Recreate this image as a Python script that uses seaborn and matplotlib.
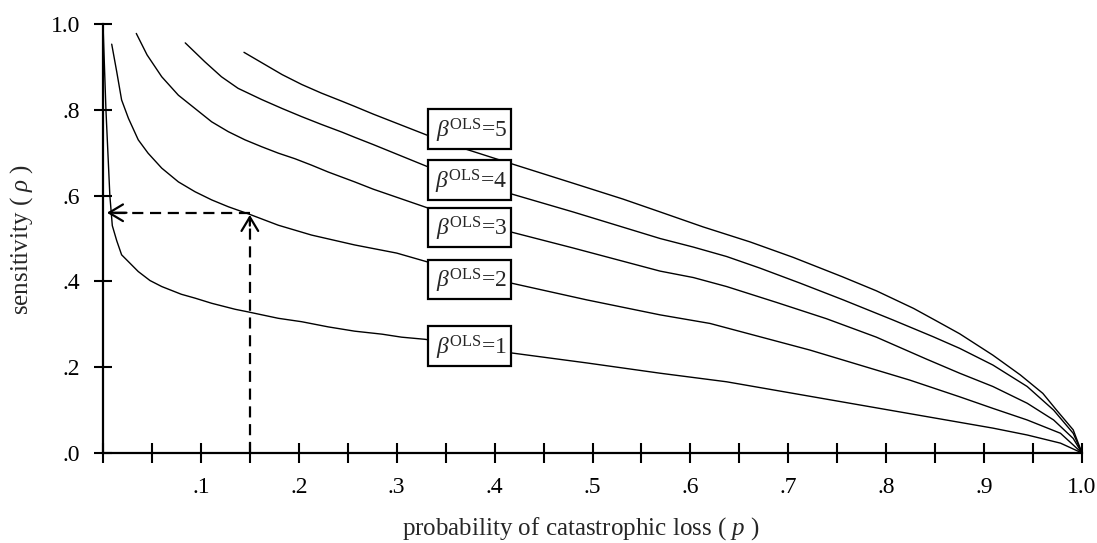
import numpy as np
import pandas as pd
import matplotlib
matplotlib.use("Agg")
import matplotlib.pyplot as plt
from matplotlib.patches import Rectangle
import seaborn as sns

# sensitivity (rho) against probability of catastrophic loss (p)
p_b1 = [0.0, 0.003, 0.007, 0.0095, 0.014, 0.019, 0.036, 0.048, 0.06, 0.08, 0.094, 0.111,
        0.135, 0.148, 0.179, 0.203, 0.23, 0.257, 0.285, 0.305, 0.329, 0.418, 0.494, 0.569,
        0.637, 0.705, 0.773, 0.841, 0.909, 0.944, 0.978, 1.0]
rho_b1 = [1.0, 0.8, 0.6, 0.53, 0.495, 0.462, 0.423, 0.402, 0.388, 0.37, 0.361, 0.349,
          0.335, 0.329, 0.314, 0.306, 0.294, 0.284, 0.277, 0.27, 0.265, 0.233, 0.21, 0.186,
          0.166, 0.139, 0.112, 0.085, 0.058, 0.042, 0.023, 0.0]

p_b2 = [0.0089, 0.014, 0.019, 0.026, 0.036, 0.046, 0.06, 0.077, 0.094, 0.111, 0.128, 0.149,
        0.179, 0.213, 0.257, 0.30, 0.332, 0.417, 0.494, 0.569, 0.62, 0.671, 0.722, 0.773,
        0.824, 0.875, 0.909, 0.944, 0.978, 1.0]
rho_b2 = [0.953, 0.889, 0.823, 0.78, 0.73, 0.699, 0.664, 0.632, 0.609, 0.59, 0.574, 0.557,
          0.531, 0.508, 0.485, 0.466, 0.445, 0.396, 0.357, 0.322, 0.302, 0.271, 0.24, 0.205,
          0.17, 0.131, 0.104, 0.077, 0.046, 0.0]

p_b3 = [0.034, 0.045, 0.06, 0.077, 0.094, 0.111, 0.128, 0.145, 0.162, 0.179, 0.196, 0.213,
        0.23, 0.257, 0.276, 0.332, 0.417, 0.48, 0.569, 0.603, 0.637, 0.688, 0.739, 0.79,
        0.841, 0.875, 0.909, 0.944, 0.971, 0.991, 1.0]
rho_b3 = [0.978, 0.928, 0.877, 0.834, 0.803, 0.772, 0.749, 0.73, 0.714, 0.699, 0.686, 0.671,
          0.655, 0.632, 0.615, 0.571, 0.515, 0.478, 0.424, 0.409, 0.388, 0.351, 0.313, 0.27,
          0.219, 0.186, 0.155, 0.116, 0.077, 0.034, 0.0]

p_b4 = [0.084, 0.104, 0.121, 0.138, 0.162, 0.183, 0.203, 0.223, 0.244, 0.257, 0.276, 0.332,
        0.417, 0.48, 0.569, 0.603, 0.637, 0.671, 0.712, 0.756, 0.807, 0.848, 0.875, 0.909,
        0.944, 0.971, 0.991, 1.0]
rho_b4 = [0.956, 0.912, 0.877, 0.85, 0.824, 0.803, 0.784, 0.766, 0.748, 0.736, 0.719, 0.667,
          0.604, 0.562, 0.5, 0.48, 0.458, 0.431, 0.396, 0.357, 0.31, 0.271, 0.244, 0.205,
          0.155, 0.1, 0.046, 0.0]

p_b5 = [0.144, 0.162, 0.183, 0.203, 0.223, 0.244, 0.257, 0.276, 0.332, 0.371, 0.419, 0.48,
        0.531, 0.569, 0.613, 0.661, 0.705, 0.755, 0.79, 0.828, 0.852, 0.875, 0.909, 0.937,
        0.96, 0.974, 0.991, 1.0]
rho_b5 = [0.934, 0.91, 0.882, 0.859, 0.839, 0.82, 0.808, 0.79, 0.74, 0.708, 0.673, 0.629,
          0.592, 0.562, 0.527, 0.492, 0.456, 0.411, 0.378, 0.337, 0.307, 0.278, 0.228, 0.182,
          0.139, 0.1, 0.054, 0.0]

betas = [1, 2, 3, 4, 5]
p_curves = [p_b1, p_b2, p_b3, p_b4, p_b5]
rho_curves = [rho_b1, rho_b2, rho_b3, rho_b4, rho_b5]

# worked example: p = .15 on beta=2 gives rho = .56, same rho on beta=1 at p ~ .004
p_example = 0.15
rho_example = 0.56
p_equiv = 0.004

x_ticks = np.round(np.arange(0, 1.0001, 0.05), 2)
x_ticklabels = ['', '', '.1', '', '.2', '', '.3', '', '.4', '', '.5', '',
                '.6', '', '.7', '', '.8', '', '.9', '', '1.0']
y_ticks = [0.0, 0.2, 0.4, 0.6, 0.8, 1.0]
y_ticklabels = ['.0', '.2', '.4', '.6', '.8', '1.0']

# label boxes (lower edge of each box, in data units)
box_x0 = 0.332
box_w = 0.085
box_h = 0.092
box_y0 = [0.203, 0.359, 0.480, 0.590, 0.709]

df = pd.concat([pd.DataFrame({'p': p, 'rho': r, 'beta': b})
                for b, p, r in zip(betas, p_curves, rho_curves)], ignore_index=True)

sns.set_theme(style="white")
plt.rcParams['font.family'] = ['Liberation Serif', 'DejaVu Serif']
plt.rcParams['mathtext.fontset'] = 'custom'
plt.rcParams['mathtext.rm'] = 'Liberation Serif'
plt.rcParams['mathtext.it'] = 'Liberation Serif:italic'
plt.rcParams['mathtext.bf'] = 'Liberation Serif:bold'

fig = plt.figure(figsize=(10.97, 5.43), dpi=100)
ax = fig.add_axes([103 / 1097, 90 / 543, 979 / 1097, 429 / 543])

sns.lineplot(data=df, x='p', y='rho', units='beta', estimator=None, sort=False,
             color='black', lw=1.0, ax=ax, clip_on=False, legend=False)

# dashed guide lines with open arrow heads
ax.plot([p_example, p_example], [0, rho_example - 0.012], color='black', lw=1.6,
        linestyle=(0, (5, 3)), zorder=2)
ax.plot([p_example, p_equiv + 0.006], [rho_example, rho_example], color='black', lw=1.6,
        linestyle=(0, (5, 3)), zorder=2)
arrow = dict(arrowstyle='->,head_length=0.5,head_width=0.3', color='black', lw=1.6,
             mutation_scale=20, shrinkA=0, shrinkB=0)
ax.annotate('', xy=(p_example, rho_example - 0.005), xytext=(p_example, rho_example - 0.03),
            arrowprops=arrow)
ax.annotate('', xy=(p_equiv, rho_example), xytext=(p_equiv + 0.02, rho_example),
            arrowprops=arrow)

for b, y0 in zip(betas, box_y0):
    ax.add_patch(Rectangle((box_x0, y0), box_w, box_h, facecolor='white',
                           edgecolor='black', lw=1.6, zorder=4))
    ax.text(box_x0 + box_w / 2 + 0.002, y0 + box_h / 2 - 0.004, r'$\beta^{\mathrm{OLS}}$=' + str(b),
            ha='center', va='center', fontsize=17, zorder=5)

ax.set_xlim(0, 1.0)
ax.set_ylim(0, 1.0)
ax.set_xticks(x_ticks)
ax.set_xticklabels(x_ticklabels)
ax.set_yticks(y_ticks)
ax.set_yticklabels(y_ticklabels)
ax.set_xlabel('')
ax.set_ylabel('')

for side in ['top', 'right']:
    ax.spines[side].set_visible(False)
for side in ['left', 'bottom']:
    ax.spines[side].set_linewidth(1.6)
    ax.spines[side].set_color('black')

ax.tick_params(axis='x', bottom=True, direction='inout', length=14, width=1.5,
               labelsize=17, pad=10, colors='black')
ax.tick_params(axis='y', left=True, direction='inout', length=13, width=1.5,
               labelsize=17, pad=10, colors='black')

ax.text(0.488, -0.145, r'probability of catastrophic loss ( $p$ )', transform=ax.transAxes,
        ha='center', va='top', fontsize=18)
ax.text(-0.083, 0.497, r'sensitivity ( $\rho$ )', transform=ax.transAxes,
        ha='center', va='center', rotation=90, fontsize=18)

fig.savefig('out.png', dpi=100)
